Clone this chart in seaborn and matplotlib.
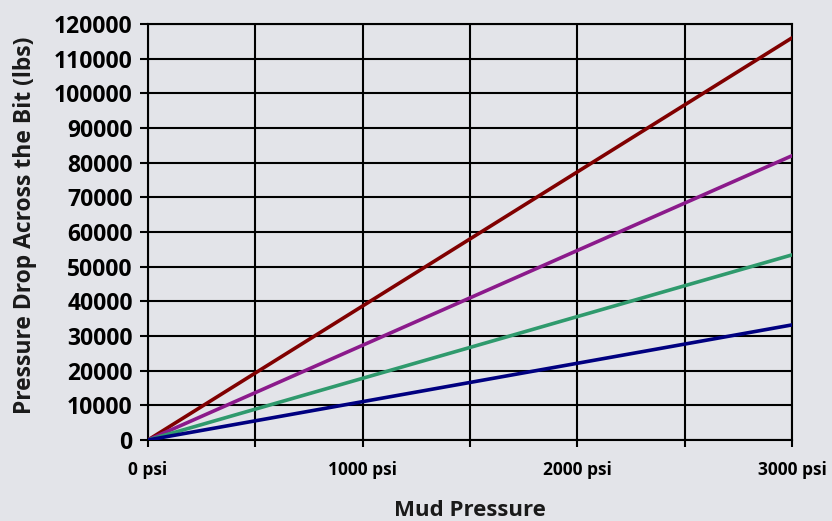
import matplotlib
matplotlib.use("Agg")
import matplotlib.pyplot as plt
import seaborn as sns
import pandas as pd

# Data
mud_pressure = [0, 3000]
series_names = ["Series A", "Series B", "Series C", "Series D"]
series_values = {
    "Series A": [0, 116000],
    "Series B": [0, 82000],
    "Series C": [0, 53400],
    "Series D": [0, 33200],
}
series_colors = ["#800000", "#8b1a8b", "#2f9a6d", "#000080"]
x_tick_values = [0, 1000, 2000, 3000]
x_tick_labels = ["0 psi", "1000 psi", "2000 psi", "3000 psi"]
y_tick_values = list(range(0, 120001, 10000))

rows = []
for name in series_names:
    for p, v in zip(mud_pressure, series_values[name]):
        rows.append({"Mud Pressure": p, "Drop": v, "Series": name})
df = pd.DataFrame(rows)

sns.set_theme(style="white")
plt.rcParams["font.family"] = ["Open Sans", "DejaVu Sans"]

bg = "#e3e4e9"
fig = plt.figure(figsize=(8.32, 5.21), dpi=100, facecolor=bg)
ax = fig.add_axes([148/832, 1-440/521, (792-148)/832, (440-24)/521])
ax.set_facecolor(bg)

sns.lineplot(data=df, x="Mud Pressure", y="Drop", hue="Series",
             palette=series_colors, hue_order=series_names,
             linewidth=2.6, legend=False, ax=ax, zorder=3)

ax.set_xlim(0, 3000)
ax.set_ylim(0, 120000)
ax.set_xticks(list(range(0, 3001, 500)), minor=False)
ax.set_xticklabels([x_tick_labels[x_tick_values.index(t)] if t in x_tick_values else "" for t in range(0, 3001, 500)])
ax.set_yticks(y_tick_values)
ax.set_yticklabels([str(v) for v in y_tick_values])

ax.grid(True, color="black", linewidth=1.5, zorder=1)
for s in ax.spines.values():
    s.set_color("black")
    s.set_linewidth(1.5)

ax.tick_params(axis="y", direction="out", length=6, width=1.5, color="black",
               labelsize=16.5, pad=5, left=True)
ax.tick_params(axis="x", direction="out", length=5, width=1.5, color="black",
               labelsize=12.5, pad=10, bottom=True)
for lbl in ax.get_xticklabels() + ax.get_yticklabels():
    lbl.set_fontweight("bold")
    lbl.set_color("black")

ax.set_xlabel("Mud Pressure", fontsize=16, fontweight="bold", color="#1a1a1a", labelpad=15)
ax.set_ylabel("Pressure Drop Across the Bit (lbs)", fontsize=16.5, fontweight="bold",
              color="#1a1a1a")
ax.yaxis.set_label_coords(-0.172, 0.517)

fig.savefig("out.png", dpi=100, facecolor=bg)
